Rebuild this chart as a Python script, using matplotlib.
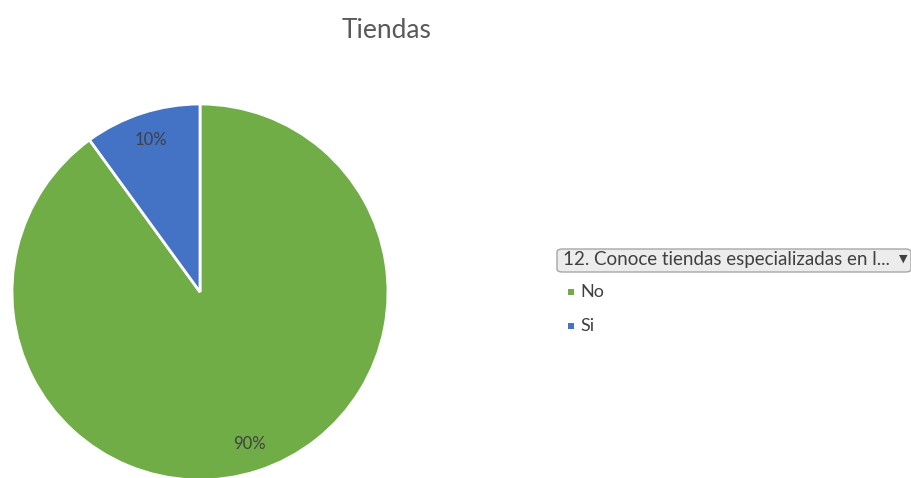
import matplotlib.pyplot as plt
from matplotlib.patches import FancyBboxPatch, Rectangle

categories = ["No", "Si"]
values = [90, 10]
colors = ["#70AD47", "#4472C4"]
legend_title = "12. Conoce tiendas especializadas en l..."

plt.rcParams["font.family"] = ["Lato", "DejaVu Sans"]

W, H = 912, 478
fig = plt.figure(figsize=(W / 100, H / 100), dpi=100)

# pie centre and radius in pixels
cx, cy, r = 200, H - 292, 188
ax = fig.add_axes([(cx - r) / W, (cy - r) / H, 2 * r / W, 2 * r / H])
wedges, texts, autotexts = ax.pie(
    values, colors=colors, startangle=90, counterclock=False,
    autopct="%1.0f%%", pctdistance=0.85, radius=1.0,
    wedgeprops=dict(edgecolor="white", linewidth=2),
    textprops=dict(color="#404040", fontsize=12),
)
ax.set_xlim(-1, 1)
ax.set_ylim(-1, 1)
ax.set_aspect("equal")
ax.axis("off")

fig.text(387 / W, 1 - 30 / H, "Tiendas", ha="center", va="center",
         fontsize=19, color="#595959")

# legend header box with dropdown arrow
box = FancyBboxPatch((557 / W, 1 - 272 / H), 354 / W, 23 / H,
                     boxstyle="round,pad=0,rounding_size=0.006",
                     transform=fig.transFigure, facecolor="#ececec",
                     edgecolor="#a6a6a6", linewidth=1)
fig.patches.append(box)
fig.text(563 / W, 1 - 260 / H, legend_title, ha="left", va="center",
         fontsize=13.5, color="#404040")
fig.text(903 / W, 1 - 259 / H, "\u25BC", ha="center", va="center",
         fontsize=8, color="#404040", family="DejaVu Sans")

for i, (name, col) in enumerate(zip(categories, colors)):
    y = 292 + i * 34
    fig.patches.append(Rectangle((568 / W, 1 - (y + 3) / H), 6 / W, 6 / H,
                                 transform=fig.transFigure, facecolor=col,
                                 edgecolor="none"))
    fig.text(580 / W, 1 - y / H, name, ha="left", va="center",
             fontsize=13, color="#404040")

fig.savefig("out.png", dpi=100)
